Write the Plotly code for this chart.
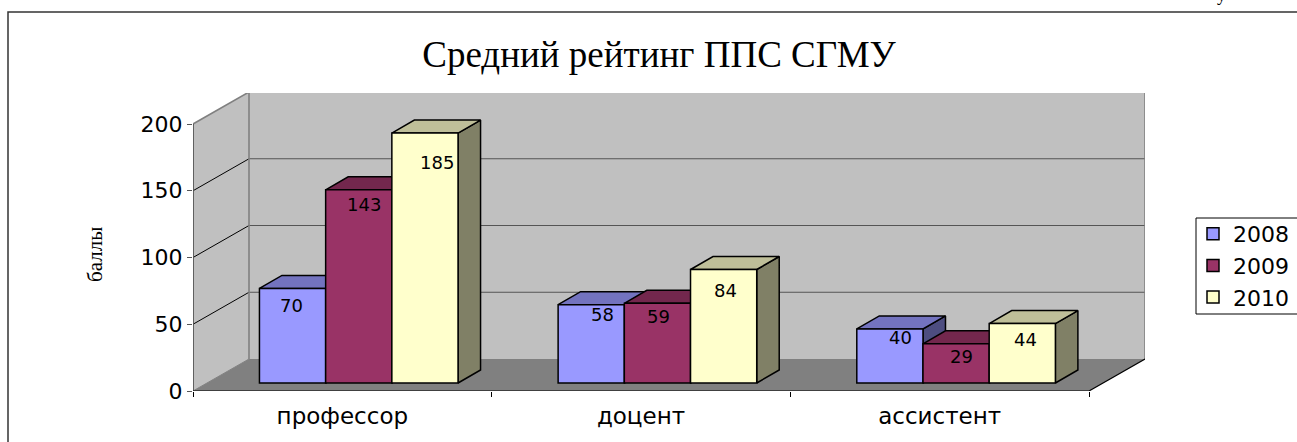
import plotly.graph_objects as go

categories = ["профессор", "доцент", "ассистент"]
years = ["2008", "2009", "2010"]
values_2008 = [70, 58, 40]
values_2009 = [143, 59, 29]
values_2010 = [185, 84, 44]
series_values = [values_2008, values_2009, values_2010]
y_ticks = [0, 50, 100, 150, 200]
title_text = "Средний рейтинг ППС СГМУ"
y_title = "баллы"

front_colors = ["#9999FF", "#993366", "#FFFFCC"]
top_colors = ["#7373BF", "#73274D", "#BFBF99"]
side_colors = ["#4D4D80", "#4D1A33", "#808066"]

# label nudges in pixels, per series and category
label_dx = [[-1, 11, 11], [5, 1, 5], [12, 2, 3]]
label_dy = [[17, 10, 9], [15, 13, 13], [29, 21, 16]]

# plot-area geometry in pixels
W, H = 1297, 442
L, R, T, B = 193, 1145, 93, 391
CAT_PX = 298.67
VAL_PX = 1.335
BAR_VAL_PX = 1.351
BAR_BASE_PX = 383
px = lambda v: (v - L) / (R - L)
py = lambda v: (B - v) / (B - T)

x_range = [0, (R - L) / CAT_PX]
y_range = [0, (B - T) / VAL_PX]
y_bar_range = [-(B - BAR_BASE_PX) / BAR_VAL_PX, (BAR_BASE_PX - T) / BAR_VAL_PX]

wall_dx = 56 / CAT_PX
wall_dy = 32 / VAL_PX
bar_dx = 22.5 / CAT_PX
bar_dy = 13 / BAR_VAL_PX
bar_w = 66.2 / CAT_PX
group_start = 0.2225

fig = go.Figure()


def poly(xs, ys, fill, line=None, lw=0, xa="x", ya="y"):
    fig.add_trace(go.Scatter(
        x=xs, y=ys, xaxis=xa, yaxis=ya, mode="lines", fill="toself" if fill else None,
        fillcolor=fill, line=dict(color=line or "rgba(0,0,0,0)", width=lw),
        showlegend=False, hoverinfo="skip", cliponaxis=False))


n = len(categories)
top = y_ticks[-1]
# walls and floor
poly([0, wall_dx, wall_dx, 0, 0], [0, wall_dy, top + wall_dy, top, 0], "#C0C0C0")
poly([wall_dx, n + wall_dx, n + wall_dx, wall_dx, wall_dx],
     [wall_dy, wall_dy, top + wall_dy, top + wall_dy, wall_dy], "#C0C0C0")
poly([0, n, n + wall_dx, wall_dx, 0], [0, 0, wall_dy, wall_dy, 0], "#808080")
# gridlines
for t in y_ticks[1:-1]:
    poly([0, wall_dx], [t, t + wall_dy], None, "#000000", 1)
    poly([wall_dx, n + wall_dx], [t + wall_dy, t + wall_dy], None, "#555555", 1.2)
poly([0, wall_dx, n + wall_dx, n + wall_dx], [top, top + wall_dy, top + wall_dy, wall_dy], None, "#808080", 1.6)
poly([wall_dx, wall_dx], [wall_dy, top + wall_dy], None, "#808080", 1.6)
poly([0, wall_dx], [0, wall_dy], None, "#808080", 1)
# front frame lines
poly([0, 0], [0, top], None, "#555555", 1.8)
poly([0, n, n + wall_dx], [0, 0, wall_dy], None, "#000000", 1.2)

# depth faces of bars, left to right
for c in range(n):
    for s, vals in enumerate(series_values):
        x0 = c + group_start + s * bar_w
        x1 = x0 + bar_w
        v = vals[c]
        poly([x1, x1 + bar_dx, x1 + bar_dx, x1, x1], [0, bar_dy, v + bar_dy, v, 0],
             side_colors[s], "#000000", 1.5, "x2", "y2")
        poly([x0, x1, x1 + bar_dx, x0 + bar_dx, x0], [v, v, v + bar_dy, v + bar_dy, v],
             top_colors[s], "#000000", 1.5, "x2", "y2")

# front faces
for s, vals in enumerate(series_values):
    fig.add_trace(go.Bar(
        x=[c + group_start + (s + 0.5) * bar_w for c in range(n)], y=vals, width=bar_w,
        name=years[s], xaxis="x3", yaxis="y3",
        marker=dict(color=front_colors[s], line=dict(color="#000000", width=1.5))))

annotations = []
for s, vals in enumerate(series_values):
    for c in range(n):
        annotations.append(dict(
            x=c + group_start + (s + 0.5) * bar_w, y=vals[c], xref="x3", yref="y3",
            text=str(vals[c]), showarrow=False, xshift=label_dx[s][c], yshift=-label_dy[s][c],
            font=dict(family="DejaVu Sans", size=18, color="#000000")))
annotations.append(dict(
    x=px(95), y=py(255), xref="paper", yref="paper", xanchor="center", yanchor="middle",
    text=y_title, textangle=-90, showarrow=False,
    font=dict(family="Liberation Serif", size=21, color="#000000")))
annotations.append(dict(
    x=px(1221), y=py(-5), xref="paper", yref="paper", xanchor="center", yanchor="middle",
    text="у", showarrow=False,
    font=dict(family="Liberation Serif", size=18, color="#000000")))

overlay = dict(visible=False, overlaying="x", range=x_range)
fig.update_layout(
    width=W, height=H, paper_bgcolor="#FFFFFF", plot_bgcolor="rgba(0,0,0,0)",
    margin=dict(l=L, r=W - R, t=T, b=H - B, autoexpand=False),
    barmode="overlay", hovermode=False,
    title=dict(text=title_text, x=659 / W, y=1 - 54 / H, xanchor="center", yanchor="middle",
               font=dict(family="Liberation Serif", size=37, color="#000000")),
    xaxis=dict(range=x_range, tickmode="array", tickvals=[i + 0.5 for i in range(n)], ticktext=categories,
               ticks="", showgrid=False, zeroline=False, showline=False, ticklabelstandoff=9,
               tickfont=dict(family="DejaVu Sans", size=23, color="#000000"),
               minor=dict(tickmode="array", tickvals=list(range(n + 1)), ticks="outside", ticklen=5,
                          tickcolor="#000000", tickwidth=1, showgrid=False)),
    yaxis=dict(range=y_range, tickmode="array", tickvals=y_ticks, ticks="outside", ticklen=5,
               tickcolor="#555555", tickwidth=1, showgrid=False, zeroline=False, showline=False,
               tickfont=dict(family="DejaVu Sans", size=22, color="#000000")),
    xaxis2=overlay, xaxis3=overlay,
    yaxis2=dict(visible=False, overlaying="y", range=y_bar_range),
    yaxis3=dict(visible=False, overlaying="y", range=y_bar_range),
    legend=dict(x=px(1193), y=py(213), xanchor="left", yanchor="top", xref="paper", yref="paper",
                bgcolor="rgba(0,0,0,0)", borderwidth=0, traceorder="normal",
                font=dict(family="DejaVu Sans", size=22, color="#000000")),
    annotations=annotations,
    shapes=[dict(type="rect", xref="paper", yref="paper", x0=px(8), x1=px(W + 5), y0=py(12), y1=py(H + 5),
                 line=dict(color="#333333", width=1.5), layer="below"),
            dict(type="rect", xref="paper", yref="paper", x0=px(1196), x1=px(W + 5), y0=py(218), y1=py(314),
                 line=dict(color="#000000", width=1), layer="below")],
)

fig.write_html("out.html", config={"displayModeBar": False},
               post_script="document.body.style.margin='0';document.body.style.overflow='hidden';")
